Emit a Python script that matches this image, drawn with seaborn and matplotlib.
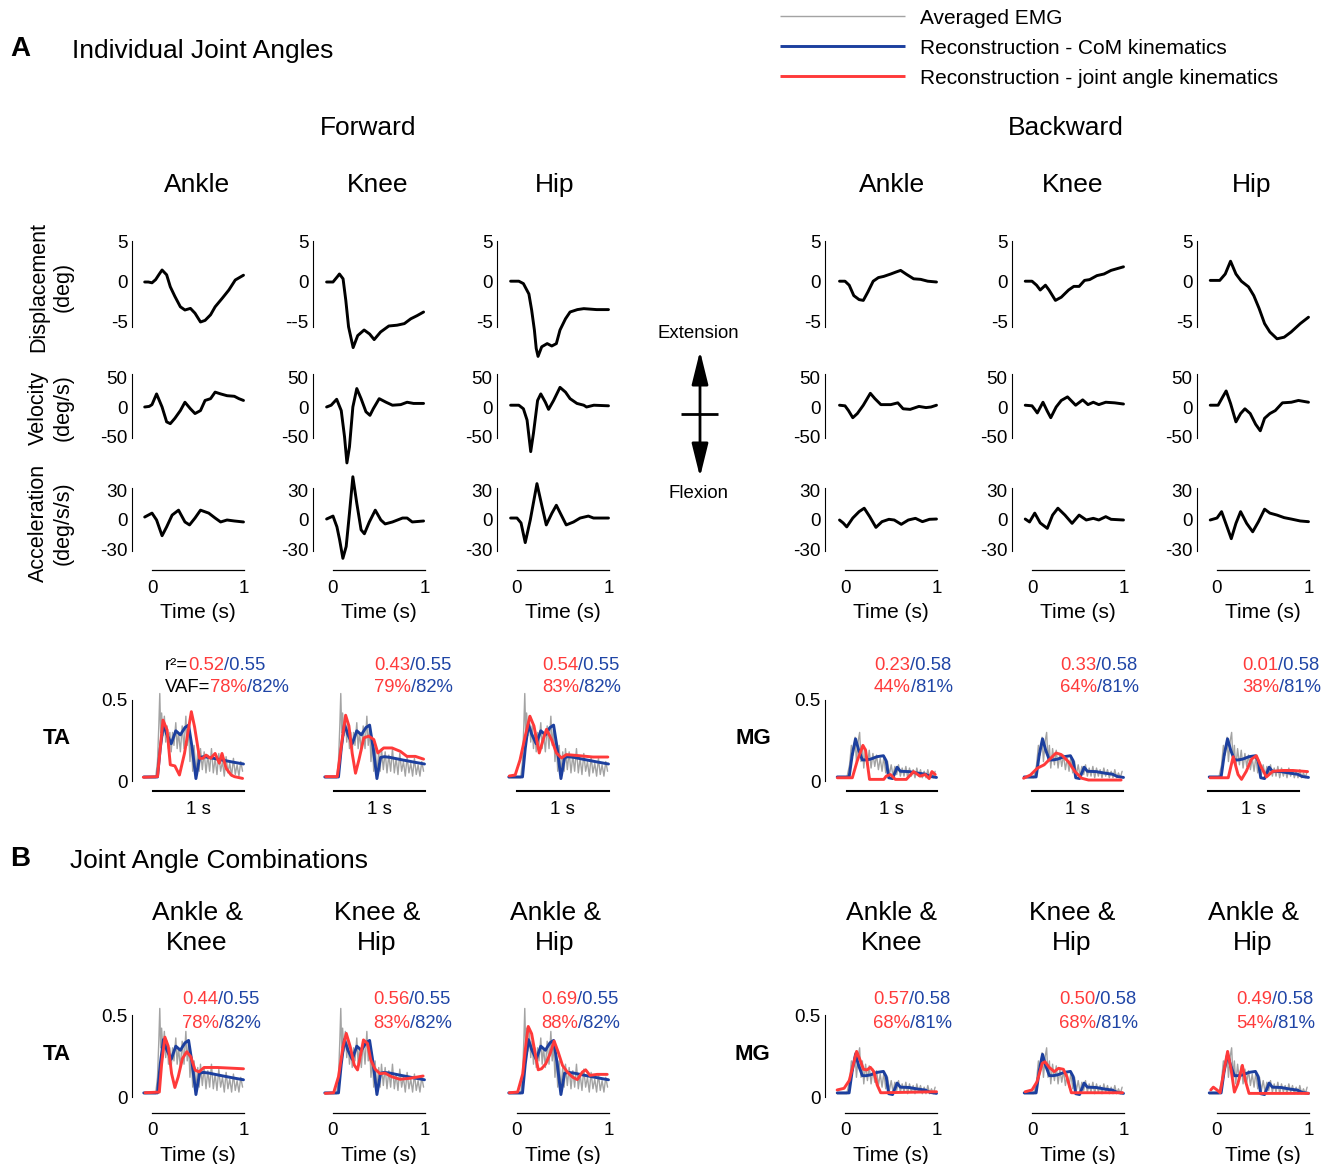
import matplotlib
matplotlib.use("Agg")
import matplotlib.pyplot as plt
import seaborn as sns
from matplotlib.patches import FancyArrowPatch

# ---------------- data ----------------
# kinematics: (time s, value) pairs
F_ANKLE_DISP = [(-0.08, 0.0), (-0.04, 0.0), (0.0, -0.1), (0.04, 0.3), (0.08, 1.0), (0.11, 1.5), (0.16, 0.9),
                (0.20, -0.6), (0.25, -1.8), (0.31, -3.1), (0.36, -3.5), (0.42, -3.3), (0.47, -3.9), (0.53, -5.0),
                (0.58, -4.8), (0.64, -4.1), (0.69, -3.1), (0.77, -2.0), (0.84, -1.0), (0.91, 0.25), (1.0, 0.85)]
F_ANKLE_VEL = [(-0.08, 0), (-0.03, 1), (0.0, 4), (0.05, 22), (0.11, 0), (0.16, -25), (0.20, -28), (0.25, -19),
               (0.31, -6), (0.36, 8), (0.42, -3), (0.47, -11), (0.53, -6), (0.58, 11), (0.64, 14), (0.69, 25),
               (0.75, 22), (0.82, 19), (0.90, 18), (0.95, 14), (1.0, 11)]
F_ANKLE_ACC = [(-0.08, 3), (0.0, 7), (0.05, 0), (0.11, -16), (0.16, -7), (0.22, 5), (0.29, 10), (0.36, -2),
               (0.41, -5), (0.47, 2), (0.53, 10), (0.62, 7), (0.69, 2), (0.75, -2), (0.82, 0), (0.90, -1), (1.0, -2)]
F_KNEE_DISP = [(-0.07, 0), (0.0, 0), (0.05, 0.7), (0.07, 1.0), (0.11, 0.4), (0.14, -2.3), (0.17, -5.6),
               (0.22, -8.2), (0.27, -6.7), (0.34, -6.0), (0.40, -6.5), (0.45, -7.2), (0.52, -6.25), (0.61, -5.5),
               (0.70, -5.4), (0.78, -5.2), (0.85, -4.6), (0.92, -4.2), (0.99, -3.75)]
F_KNEE_VEL = [(-0.07, 0), (-0.02, 3), (0.04, 13), (0.09, -6), (0.126, -50), (0.152, -94), (0.18, -67),
              (0.217, 0), (0.26, 31), (0.307, 14), (0.36, -8), (0.404, -14), (0.44, -3), (0.505, 14), (0.58, 8),
              (0.65, 3), (0.74, 4), (0.81, 8), (0.88, 6), (0.99, 6)]
F_KNEE_ACC = [(-0.07, 1), (0.0, 4), (0.043, -7), (0.072, -20), (0.108, -39), (0.144, -27), (0.18, 7),
              (0.217, 44), (0.26, 17), (0.307, -10), (0.343, -14), (0.397, -2), (0.462, 10), (0.523, 0),
              (0.57, -4), (0.65, -2), (0.76, 2), (0.81, 2), (0.866, -2), (0.99, -1)]
F_HIP_DISP = [(-0.07, 0.1), (0.02, 0.1), (0.07, -0.2), (0.13, -1.5), (0.16, -3.5), (0.19, -6.0), (0.21, -8.3),
              (0.23, -9.3), (0.27, -8.1), (0.33, -7.7), (0.38, -8.0), (0.43, -7.7), (0.47, -6.0), (0.53, -4.6),
              (0.58, -3.75), (0.66, -3.45), (0.73, -3.33), (0.87, -3.45), (1.0, -3.45)]
F_HIP_VEL = [(-0.07, 3), (0.02, 3), (0.07, -3), (0.11, -22), (0.15, -75), (0.18, -44), (0.225, 11), (0.26, 22),
             (0.31, 8), (0.345, -4), (0.40, 11), (0.47, 33), (0.53, 25), (0.58, 14), (0.655, 6), (0.73, 3),
             (0.76, 0), (0.84, 3), (1.0, 2)]
F_HIP_ACC = [(-0.07, 2), (0.0, 2), (0.044, -3), (0.09, -23), (0.145, 0), (0.218, 37), (0.273, 14), (0.32, -5),
             (0.382, 7), (0.43, 15), (0.473, 7), (0.538, -5), (0.618, -2), (0.69, 2), (0.78, 4), (0.836, 2),
             (1.0, 2)]
B_ANKLE_DISP = [(-0.06, 0.1), (0.0, 0.1), (0.046, -0.4), (0.096, -1.7), (0.154, -2.2), (0.2, -2.3),
                (0.25, -1.25), (0.308, 0.1), (0.365, 0.55), (0.423, 0.7), (0.5, 1.0), (0.558, 1.25),
                (0.608, 1.45), (0.673, 0.95), (0.75, 0.4), (0.827, 0.33), (0.904, 0.1), (1.0, 0.0)]
B_ANKLE_VEL = [(-0.06, 3), (0.0, 2), (0.038, -6), (0.085, -18), (0.135, -11), (0.2, 3), (0.277, 23),
               (0.327, 14), (0.392, 4), (0.5, 4), (0.577, 7), (0.635, -3), (0.712, -4), (0.808, 1), (0.885, -1),
               (0.94, 0), (1.0, 3)]
B_ANKLE_ACC = [(-0.06, 0), (-0.02, -3), (0.019, -7), (0.085, 2), (0.154, 8.5), (0.21, 12), (0.27, 3.4),
               (0.338, -7.5), (0.404, -1.7), (0.48, 0.7), (0.538, 0), (0.615, -4.4), (0.692, 0), (0.77, 1.7),
               (0.846, -1.7), (0.923, 0.7), (1.0, 1)]
B_KNEE_DISP = [(-0.074, 0.1), (0.0, 0.1), (0.05, -0.4), (0.09, -1.0), (0.147, -0.4), (0.186, -1.0),
               (0.256, -2.3), (0.32, -1.9), (0.4, -1.0), (0.457, -0.55), (0.515, -0.55), (0.574, 0.2),
               (0.63, 0.3), (0.71, 0.8), (0.787, 1.0), (0.864, 1.45), (1.0, 1.9)]
B_KNEE_VEL = [(-0.074, 3), (0.0, 2), (0.03, -4), (0.058, -10), (0.12, 8), (0.167, -7), (0.205, -18),
              (0.264, 0), (0.32, 11), (0.388, 17), (0.477, 3), (0.554, 12), (0.612, 4), (0.67, 8), (0.73, 4),
              (0.806, 8), (0.903, 7), (1.0, 5)]
B_KNEE_ACC = [(-0.074, 1), (-0.027, -2), (0.03, 7), (0.09, -3), (0.167, -8.5), (0.225, 5), (0.283, 12),
              (0.36, 5), (0.438, -3.4), (0.515, 5), (0.593, 0), (0.67, 1.7), (0.73, 0), (0.806, 3.4),
              (0.864, 0.7), (1.0, 0)]
B_HIP_DISP = [(-0.074, 0.2), (0.03, 0.2), (0.09, 1.0), (0.148, 2.6), (0.207, 1.0), (0.266, 0.1), (0.344, -0.6),
              (0.402, -1.7), (0.46, -3.3), (0.52, -5.2), (0.578, -6.25), (0.656, -7.1), (0.734, -6.9),
              (0.81, -6.25), (0.91, -5.2), (1.0, -4.4)]
B_HIP_VEL = [(-0.074, 3), (0.012, 3), (0.0625, 17), (0.1, 27), (0.148, 6), (0.207, -25), (0.258, -11),
             (0.305, -3), (0.363, -11), (0.422, -29), (0.473, -40), (0.52, -19), (0.578, -11), (0.637, -6),
             (0.715, 7), (0.8125, 8), (0.89, 11), (1.0, 8)]
B_HIP_ACC = [(-0.074, 0), (0.0, 2), (0.05, 8.5), (0.11, -7), (0.156, -19), (0.207, -3.4), (0.258, 8.5),
             (0.324, -3.4), (0.39, -12), (0.453, -1.7), (0.52, 11), (0.578, 7), (0.656, 5), (0.734, 2.4),
             (0.81, 1), (0.91, -1), (1.0, -1.7)]

# EMG (time s, normalised activity)
TA_EMG = [(-0.09, 0.02), (0.04, 0.02), (0.06, 0.12), (0.075, 0.35), (0.085, 0.54), (0.095, 0.30), (0.105, 0.42),
          (0.12, 0.28), (0.135, 0.40), (0.15, 0.24), (0.165, 0.34), (0.18, 0.20), (0.195, 0.30), (0.21, 0.18),
          (0.225, 0.30), (0.24, 0.22), (0.26, 0.36), (0.275, 0.20), (0.29, 0.30), (0.31, 0.18), (0.33, 0.34),
          (0.35, 0.20), (0.37, 0.40), (0.385, 0.22), (0.40, 0.32), (0.415, 0.12), (0.43, 0.25), (0.445, 0.06),
          (0.46, 0.22), (0.48, 0.05), (0.50, 0.18), (0.515, 0.06), (0.53, 0.20), (0.55, 0.07), (0.57, 0.18),
          (0.59, 0.05), (0.61, 0.16), (0.63, 0.06), (0.65, 0.20), (0.67, 0.05), (0.69, 0.14), (0.71, 0.04),
          (0.73, 0.17), (0.75, 0.06), (0.77, 0.12), (0.79, 0.03), (0.81, 0.15), (0.83, 0.05), (0.85, 0.11),
          (0.87, 0.03), (0.89, 0.14), (0.91, 0.04), (0.93, 0.10), (0.95, 0.03), (0.97, 0.12), (0.99, 0.06)]
TA_COM = [(-0.09, 0.025), (0.06, 0.025), (0.09, 0.2), (0.125, 0.35), (0.16, 0.29), (0.21, 0.23), (0.26, 0.31),
          (0.31, 0.285), (0.36, 0.33), (0.40, 0.345), (0.44, 0.2), (0.48, 0.015), (0.52, 0.145), (0.56, 0.15),
          (0.62, 0.146), (0.76, 0.13), (0.9, 0.115), (1.0, 0.105)]
MG_EMG = [(-0.085, 0.02), (0.02, 0.02), (0.05, 0.10), (0.07, 0.22), (0.09, 0.16), (0.11, 0.27), (0.125, 0.12),
          (0.145, 0.25), (0.16, 0.30), (0.175, 0.12), (0.19, 0.22), (0.205, 0.08), (0.225, 0.20), (0.245, 0.10),
          (0.265, 0.19), (0.285, 0.08), (0.305, 0.17), (0.325, 0.09), (0.345, 0.16), (0.365, 0.07),
          (0.385, 0.14), (0.405, 0.06), (0.425, 0.15), (0.445, 0.05), (0.465, 0.12), (0.485, 0.04),
          (0.505, 0.10), (0.525, 0.03), (0.545, 0.09), (0.565, 0.04), (0.585, 0.10), (0.605, 0.03),
          (0.625, 0.08), (0.645, 0.03), (0.665, 0.09), (0.685, 0.02), (0.705, 0.08), (0.725, 0.03),
          (0.745, 0.07), (0.765, 0.02), (0.785, 0.08), (0.805, 0.03), (0.825, 0.07), (0.845, 0.02),
          (0.865, 0.06), (0.885, 0.02), (0.905, 0.07), (0.925, 0.02), (0.945, 0.05), (0.965, 0.02),
          (0.985, 0.06)]
MG_COM = [(-0.085, 0.025), (0.045, 0.025), (0.08, 0.165), (0.115, 0.26), (0.15, 0.19), (0.19, 0.13),
          (0.23, 0.13), (0.28, 0.135), (0.35, 0.15), (0.42, 0.156), (0.45, 0.125), (0.478, 0.02), (0.52, 0.015),
          (0.57, 0.085), (0.605, 0.06), (0.70, 0.058), (0.80, 0.048), (0.88, 0.042), (0.93, 0.028),
          (1.0, 0.022)]

TA_JOINT_ANKLE = [(-0.095, 0.023), (0.06, 0.027), (0.12, 0.376), (0.165, 0.315), (0.20, 0.10), (0.25, 0.093),
                  (0.30, 0.037), (0.355, 0.17), (0.43, 0.428), (0.465, 0.335), (0.52, 0.14), (0.555, 0.14),
                  (0.59, 0.16), (0.64, 0.14), (0.69, 0.17), (0.735, 0.11), (0.765, 0.17), (0.81, 0.078),
                  (0.865, 0.037), (0.90, 0.027), (0.99, 0.016)]
TA_JOINT_KNEE = [(-0.08, 0.027), (0.047, 0.027), (0.10, 0.256), (0.138, 0.406), (0.174, 0.34), (0.21, 0.17),
                 (0.246, 0.048), (0.283, 0.13), (0.337, 0.266), (0.39, 0.277), (0.446, 0.256), (0.49, 0.173),
                 (0.554, 0.204), (0.645, 0.204), (0.736, 0.183), (0.808, 0.152), (0.9, 0.152), (0.99, 0.135)]
TA_JOINT_HIP = [(-0.084, 0.031), (-0.02, 0.037), (0.033, 0.13), (0.087, 0.27), (0.141, 0.40), (0.185, 0.34),
                (0.243, 0.173), (0.286, 0.256), (0.322, 0.319), (0.377, 0.256), (0.431, 0.173), (0.486, 0.142),
                (0.54, 0.163), (0.685, 0.156), (0.83, 0.148), (0.993, 0.148)]
MG_JOINT_ANKLE = [(-0.084, 0.02), (0.08, 0.02), (0.134, 0.125), (0.196, 0.22), (0.225, 0.19), (0.268, 0.01),
                  (0.424, 0.01), (0.45, 0.03), (0.497, 0.04), (0.55, 0.01), (0.67, 0.01), (0.75, 0.058),
                  (0.82, 0.03), (0.877, 0.04), (0.92, 0.015), (0.95, 0.058), (0.986, 0.04)]
MG_JOINT_KNEE = [(-0.092, 0.017), (-0.017, 0.037), (0.058, 0.079), (0.133, 0.10), (0.207, 0.142),
                 (0.263, 0.173), (0.32, 0.163), (0.395, 0.121), (0.47, 0.058), (0.543, 0.017), (0.618, 0.006),
                 (0.974, 0.006)]
MG_JOINT_HIP = [(-0.076, 0.02), (0.123, 0.02), (0.177, 0.15), (0.23, 0.04), (0.268, 0.01), (0.32, 0.06),
                (0.377, 0.135), (0.43, 0.156), (0.486, 0.083), (0.54, 0.025), (0.61, 0.06), (0.72, 0.065),
                (0.83, 0.065), (0.99, 0.058)]
TA_JOINT_ANKLE_KNEE = [(-0.076, 0.026), (0.08, 0.03), (0.105, 0.2), (0.141, 0.365), (0.177, 0.31),
                       (0.214, 0.143), (0.25, 0.058), (0.286, 0.122), (0.333, 0.235), (0.38, 0.276),
                       (0.424, 0.245), (0.471, 0.164), (0.514, 0.153), (0.568, 0.18), (0.714, 0.18),
                       (0.86, 0.176), (1.0, 0.172)]
TA_JOINT_KNEE_HIP = [(-0.084, 0.022), (0.007, 0.026), (0.06, 0.124), (0.109, 0.307), (0.145, 0.388),
                     (0.188, 0.307), (0.232, 0.195), (0.268, 0.165), (0.305, 0.266), (0.333, 0.348),
                     (0.377, 0.327), (0.413, 0.226), (0.46, 0.17), (0.514, 0.142), (0.568, 0.146), (0.64, 0.124),
                     (0.732, 0.108), (0.84, 0.114), (0.985, 0.128)]
TA_JOINT_ANKLE_HIP = [(-0.084, 0.026), (0.007, 0.03), (0.062, 0.14), (0.098, 0.325), (0.123, 0.43),
                      (0.16, 0.386), (0.196, 0.274), (0.232, 0.166), (0.268, 0.172), (0.315, 0.203),
                      (0.362, 0.264), (0.406, 0.341), (0.45, 0.274), (0.497, 0.193), (0.55, 0.152),
                      (0.605, 0.122), (0.66, 0.106), (0.714, 0.152), (0.75, 0.166), (0.797, 0.132),
                      (0.877, 0.138), (0.986, 0.138)]
MG_JOINT_ANKLE_KNEE = [(-0.086, 0.043), (-0.01, 0.053), (0.046, 0.1), (0.083, 0.18), (0.127, 0.278),
                       (0.165, 0.225), (0.202, 0.169), (0.24, 0.165), (0.277, 0.181), (0.315, 0.155),
                       (0.352, 0.073), (0.39, 0.026), (0.42, 0.026), (1.0, 0.032)]
MG_JOINT_KNEE_HIP = [(-0.075, 0.032), (0.0, 0.043), (0.055, 0.093), (0.112, 0.205), (0.142, 0.215),
                     (0.187, 0.181), (0.243, 0.155), (0.29, 0.175), (0.343, 0.169), (0.38, 0.124), (0.43, 0.026),
                     (0.99, 0.026)]
MG_JOINT_ANKLE_HIP = [(-0.068, 0.043), (-0.04, 0.06), (0.0, 0.043), (0.034, 0.026), (0.078, 0.165),
                      (0.116, 0.278), (0.153, 0.171), (0.19, 0.03), (0.228, 0.08), (0.277, 0.193), (0.31, 0.1),
                      (0.35, 0.022), (1.0, 0.022)]

# statistics text
R2_JOINT_A = ["0.52", "0.43", "0.54", "0.23", "0.33", "0.01"]
VAF_JOINT_A = ["78%", "79%", "83%", "44%", "64%", "38%"]
R2_JOINT_B = ["0.44", "0.56", "0.69", "0.57", "0.50", "0.49"]
VAF_JOINT_B = ["78%", "83%", "88%", "68%", "68%", "54%"]
R2_COM = ["0.55", "0.55", "0.55", "0.58", "0.58", "0.58"]
VAF_COM = ["82%", "82%", "82%", "81%", "81%", "81%"]

JOINTS = ["Ankle", "Knee", "Hip", "Ankle", "Knee", "Hip"]
COMBOS = ["Ankle &\nKnee", "Knee &\nHip", "Ankle &\nHip", "Ankle &\nKnee", "Knee &\nHip", "Ankle &\nHip"]
ROW_LABELS = ["Displacement\n(deg)", "Velocity\n(deg/s)", "Acceleration\n(deg/s/s)"]
LEGEND_LABELS = ["Averaged EMG", "Reconstruction - CoM kinematics", "Reconstruction - joint angle kinematics"]

KIN = [[F_ANKLE_DISP, F_ANKLE_VEL, F_ANKLE_ACC], [F_KNEE_DISP, F_KNEE_VEL, F_KNEE_ACC],
       [F_HIP_DISP, F_HIP_VEL, F_HIP_ACC], [B_ANKLE_DISP, B_ANKLE_VEL, B_ANKLE_ACC],
       [B_KNEE_DISP, B_KNEE_VEL, B_KNEE_ACC], [B_HIP_DISP, B_HIP_VEL, B_HIP_ACC]]
JOINT_A = [TA_JOINT_ANKLE, TA_JOINT_KNEE, TA_JOINT_HIP, MG_JOINT_ANKLE, MG_JOINT_KNEE, MG_JOINT_HIP]
JOINT_B = [TA_JOINT_ANKLE_KNEE, TA_JOINT_KNEE_HIP, TA_JOINT_ANKLE_HIP,
           MG_JOINT_ANKLE_KNEE, MG_JOINT_KNEE_HIP, MG_JOINT_ANKLE_HIP]

# ---------------- style ----------------
sns.set_theme(style="white")
plt.rcParams['font.family'] = ['Liberation Sans', 'DejaVu Sans']
for k in ['text.color', 'axes.labelcolor', 'xtick.color', 'ytick.color', 'axes.edgecolor']:
    plt.rcParams[k] = 'black'

RED = "#FF3A3A"
BLUE = "#1C3F9E"
GRAY = "#A3A3A3"
TXT_RED = "#FF3B3B"
TXT_BLUE = "#1F45A6"

W, H = 1327, 1164
fig = plt.figure(figsize=(W / 100, H / 100), dpi=100)

COL_T0 = [152, 333, 517, 845, 1032, 1217]
PPS = 91.5
XLIM = (-0.22, 1.0)
LABX = (0.5 - XLIM[0]) / (XLIM[1] - XLIM[0])


def add_ax(col, zero_px, ppu, ylim):
    x0 = COL_T0[col] + XLIM[0] * PPS
    x1 = COL_T0[col] + XLIM[1] * PPS
    top = zero_px - ylim[1] * ppu
    bot = zero_px - ylim[0] * ppu
    ax = fig.add_axes([x0 / W, 1 - bot / H, (x1 - x0) / W, (bot - top) / H])
    ax.set_facecolor('none')
    return ax


def trace(ax, pts, color, lw):
    t = [p[0] for p in pts]
    v = [p[1] for p in pts]
    sns.lineplot(x=t, y=v, ax=ax, color=color, linewidth=lw, estimator=None, sort=False,
                 clip_on=False, legend=False, solid_joinstyle='round')


def base_style(ax, xlim, ylim, show_y):
    ax.set_xlim(*xlim)
    ax.set_ylim(*ylim)
    for s in ['top', 'right']:
        ax.spines[s].set_visible(False)
    ax.spines['left'].set_visible(show_y)
    ax.spines['left'].set_linewidth(0.8)
    ax.tick_params(axis='y', length=0, pad=3, labelsize=13.6)
    ax.grid(False)


KIN_ROWS = [(282, 8.0, (-5.6, 5.1), [-5, 0, 5]),
            (407, 0.595, (-52, 55), [-50, 0, 50]),
            (520, 0.983, (-32, 33), [-30, 0, 30])]

# kinematic panels
for c in range(6):
    for r in range(3):
        zero, ppu, yl, ticks = KIN_ROWS[r]
        ax = add_ax(c, zero, ppu, yl)
        trace(ax, KIN[c][r], 'black', 2.1)
        base_style(ax, XLIM, yl, True)
        ax.set_yticks(ticks)
        labels = [str(t) for t in ticks]
        if r == 0 and c == 1:
            labels[0] = "--5"
        ax.set_yticklabels(labels)
        ax.set_xlabel('')
        ax.set_ylabel('')
        if r < 2:
            ax.spines['bottom'].set_visible(False)
            ax.set_xticks([])
        else:
            sp = ax.spines['bottom']
            sp.set_position(('outward', 13.3))
            sp.set_bounds(0, 1)
            sp.set_linewidth(0.9)
            ax.set_xticks([0, 0.5, 1])
            ax.set_xticklabels(['0', '', '1'])
            ax.tick_params(axis='x', direction='in', length=4, width=0.9, pad=7.5, labelsize=13.6)
            ax.set_xlabel('Time (s)', fontsize=15, labelpad=4, x=LABX)

# EMG panels, part A
BAR_A = [(0.01, 1.0), (0.01, 1.0), (0.0, 1.0), (0.02, 1.0), (0.0, 0.99), (-0.1, 0.9)]
for c in range(6):
    ax = add_ax(c, 781, 162, (0, 0.5))
    emg, com = (TA_EMG, TA_COM) if c < 3 else (MG_EMG, MG_COM)
    trace(ax, emg, GRAY, 1.0)
    trace(ax, com, BLUE, 2.1)
    trace(ax, JOINT_A[c], RED, 2.1)
    show_y = c in (0, 3)
    base_style(ax, XLIM, (0, 0.5), show_y)
    ax.set_yticks([0, 0.5] if show_y else [])
    if show_y:
        ax.set_yticklabels(['0', '0.5'])
    ax.set_ylabel('')
    sp = ax.spines['bottom']
    sp.set_position(('outward', 7.5))
    sp.set_bounds(*BAR_A[c])
    sp.set_linewidth(1.5)
    ax.set_xticks([])
    bx = ((BAR_A[c][0] + BAR_A[c][1]) / 2 - XLIM[0]) / (XLIM[1] - XLIM[0])
    ax.set_xlabel('1 s', fontsize=13.5, labelpad=7, x=bx)

# EMG panels, part B
for c in range(6):
    ax = add_ax(c, 1097, 164, (0, 0.5))
    emg, com = (TA_EMG, TA_COM) if c < 3 else (MG_EMG, MG_COM)
    trace(ax, emg, GRAY, 1.0)
    trace(ax, com, BLUE, 2.1)
    trace(ax, JOINT_B[c], RED, 2.1)
    show_y = c in (0, 3)
    base_style(ax, XLIM, (0, 0.5), show_y)
    ax.set_yticks([0, 0.5] if show_y else [])
    if show_y:
        ax.set_yticklabels(['0', '0.5'])
    ax.set_ylabel('')
    sp = ax.spines['bottom']
    sp.set_position(('outward', 11.5))
    sp.set_bounds(0, 1)
    sp.set_linewidth(0.9)
    ax.set_xticks([0, 0.5, 1])
    ax.set_xticklabels(['0', '', '1'])
    ax.tick_params(axis='x', direction='in', length=4, width=0.9, pad=6.5, labelsize=13.6)
    ax.set_xlabel('Time (s)', fontsize=15, labelpad=5, x=LABX)

# ---------------- overlay for text & annotations ----------------
ov = fig.add_axes([0, 0, 1, 1], facecolor='none')
ov.set_xlim(0, W)
ov.set_ylim(H, 0)
ov.axis('off')

TITLE = 19
DY = 2
ov.text(20, 47 + DY, "A", fontsize=20, fontweight='bold', ha='center', va='center')
ov.text(72, 49 + DY, "Individual Joint Angles", fontsize=TITLE, ha='left', va='center')
ov.text(20, 857 + DY, "B", fontsize=20, fontweight='bold', ha='center', va='center')
ov.text(70, 859 + DY, "Joint Angle Combinations", fontsize=TITLE, ha='left', va='center')
ov.text(368, 126 + DY, "Forward", fontsize=TITLE, ha='center', va='center')
ov.text(1066, 126 + DY, "Backward", fontsize=TITLE, ha='center', va='center')

TITLE_X_A = [197, 378, 555, 892, 1073, 1252]
TITLE_X_B = [197, 377, 555, 892, 1072, 1253]
for c in range(6):
    ov.text(TITLE_X_A[c], 183 + DY, JOINTS[c], fontsize=TITLE, ha='center', va='center')
    ov.text(TITLE_X_B[c], 926 + DY, COMBOS[c], fontsize=TITLE, ha='center', va='center',
            multialignment='center', linespacing=1.32)

for lab, y in zip(ROW_LABELS, [287, 408, 523]):
    ov.text(51, y, lab, fontsize=15.5, rotation=90, ha='center', va='center',
            multialignment='center', linespacing=1.2)

# legend
for lab, col, lw, y in zip(LEGEND_LABELS, [GRAY, BLUE, RED], [1.0, 2.1, 2.1], [16, 46, 76]):
    ov.plot([780, 905], [y, y], color=col, linewidth=lw, solid_capstyle='butt')
    ov.text(920, y + DY, lab, fontsize=15, ha='left', va='center')

# muscle labels
for txt, x, y in [("TA", 57, 736), ("MG", 753, 736), ("TA", 57, 1052), ("MG", 752, 1052)]:
    ov.text(x, y + DY, txt, fontsize=16, fontweight='bold', ha='center', va='center')

# extension/flexion arrow
ov.text(698, 332 + DY, "Extension", fontsize=13.4, ha='center', va='center')
ov.text(698, 491 + DY, "Flexion", fontsize=13.4, ha='center', va='center')
for tip in (351, 477):
    ov.add_patch(FancyArrowPatch((700, 414), (700, tip), arrowstyle='-|>,head_length=1.7,head_width=0.42',
                                 mutation_scale=12, linewidth=2.0, color='black', shrinkA=0, shrinkB=0))
ov.plot([681, 718], [414, 414], color='black', linewidth=2.0, solid_capstyle='butt')


def rainbow(x, y, parts, size=13.3):
    t = ov.text(x, y, parts[0][0], color=parts[0][1], fontsize=size, ha='left', va='center')
    for s, col in parts[1:]:
        t = ov.annotate(s, xy=(1, 0), xycoords=t, xytext=(0, 0), textcoords='offset points',
                        ha='left', va='bottom', color=col, fontsize=size)


STAT_X_A = [165, 374, 542, 874, 1060, 1242]
STAT_X_B = [182, 373, 541, 873, 1059, 1236]
for c in range(6):
    if c == 0:
        rainbow(STAT_X_A[c], 663 + DY, [("r\u00b2=", 'black'), (R2_JOINT_A[c], TXT_RED),
                                        ("/" + R2_COM[c], TXT_BLUE)])
        rainbow(STAT_X_A[c], 685 + DY, [("VAF=", 'black'), (VAF_JOINT_A[c], TXT_RED),
                                        ("/" + VAF_COM[c], TXT_BLUE)])
    else:
        rainbow(STAT_X_A[c], 663 + DY, [(R2_JOINT_A[c], TXT_RED), ("/" + R2_COM[c], TXT_BLUE)])
        rainbow(STAT_X_A[c], 685 + DY, [(VAF_JOINT_A[c], TXT_RED), ("/" + VAF_COM[c], TXT_BLUE)])
    rainbow(STAT_X_B[c], 998 + DY, [(R2_JOINT_B[c], TXT_RED), ("/" + R2_COM[c], TXT_BLUE)])
    rainbow(STAT_X_B[c], 1021 + DY, [(VAF_JOINT_B[c], TXT_RED), ("/" + VAF_COM[c], TXT_BLUE)])

fig.savefig("out.png", dpi=100)
